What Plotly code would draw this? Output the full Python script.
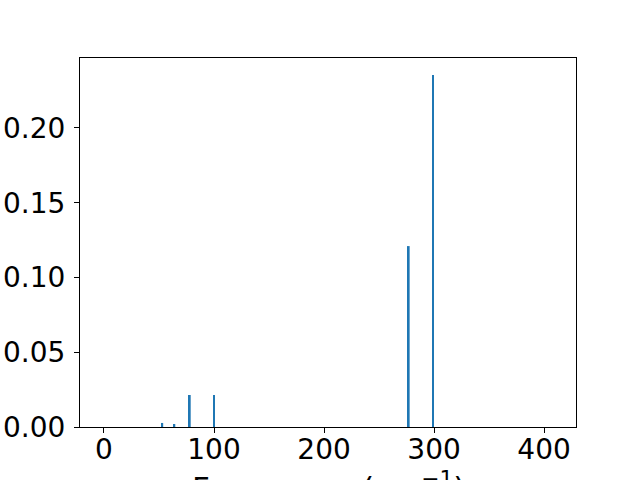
import plotly.graph_objects as go

freqs = [53, 64, 78, 100, 277, 299]
intensities = [0.0027, 0.0020, 0.0214, 0.0214, 0.121, 0.2355]
y_ticks = [0.00, 0.05, 0.10, 0.15, 0.20]
x_ticks = [0, 100, 200, 300, 400]

fig = go.Figure(go.Bar(x=freqs, y=intensities, width=1.6,
                       marker=dict(color="#1f77b4", line=dict(width=0))))

font = dict(family="DejaVu Sans", size=28, color="black")
title_font = dict(family="DejaVu Sans", size=31, color="black")
fig.update_layout(
    width=640, height=480,
    margin=dict(l=80, r=64, t=58, b=53),
    paper_bgcolor="white", plot_bgcolor="white",
    font=font, showlegend=False,
    xaxis=dict(range=[-21.8, 429], tickvals=x_ticks, ticks="outside", ticklen=5,
               tickcolor="black", showgrid=False, zeroline=False, showline=True,
               linecolor="black", linewidth=1, mirror=True, tickfont=font,
               automargin=False, ticklabelstandoff=-8),
    yaxis=dict(range=[0, 0.2468], tickvals=y_ticks, tickformat=".2f", ticks="outside",
               ticklen=5, tickcolor="black", showgrid=False, zeroline=False, showline=True,
               linecolor="black", linewidth=1, mirror=True, tickfont=font,
               automargin=False, ticklabelstandoff=3),
    annotations=[dict(text="Frequency (cm<sup>−1</sup>)", xref="paper", yref="paper",
                      x=0.5, y=-0.100, xanchor="center", yanchor="top",
                      showarrow=False, font=title_font)],
)
fig.write_html("out.html", config={"displayModeBar": False},
               post_script="document.body.style.margin='0';")
